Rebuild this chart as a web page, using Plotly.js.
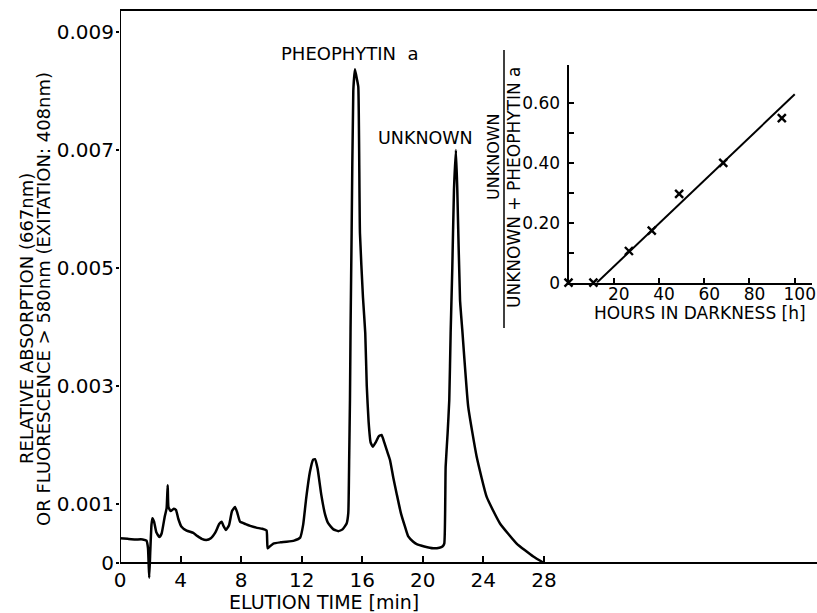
<!DOCTYPE html>
<html>
<head>
<meta charset="utf-8">
<script src="https://cdn.plot.ly/plotly-3.0.1.min.js"></script>
<style>html,body{margin:0;padding:0;background:#fff;}#chart{width:817px;height:613px;}</style>
</head>
<body>
<div id="chart"></div>
<script>
// Main chromatogram: elution time [min] and relative absorption
var elutionTime = [0.0,0.5,1.0,1.5,1.75,1.85,1.93,2.0,2.08,2.14,2.25,2.4,2.6,2.75,2.95,3.08,3.15,3.2,3.35,3.55,3.7,3.85,4.05,4.4,4.84,5.1,5.4,5.7,6.0,6.3,6.55,6.71,6.85,7.0,7.2,7.4,7.6,7.75,7.93,8.3,8.6,9.0,9.4,9.68,9.72,9.75,9.85,10.13,10.6,11.0,11.5,11.9,12.1,12.3,12.55,12.75,12.88,13.05,13.3,13.55,13.76,14.1,14.42,14.7,14.97,15.08,15.14,15.19,15.23,15.3,15.41,15.52,15.65,15.74,15.85,16.05,16.2,16.3,16.42,16.55,16.7,16.9,17.1,17.28,17.45,17.61,17.83,18.05,18.27,18.55,18.82,19.04,19.37,19.6,20.1,20.69,21.1,21.3,21.42,21.51,21.64,21.75,21.84,21.95,22.06,22.19,22.28,22.46,22.61,23.0,23.56,24.22,25.1,26.2,27.3,28.0];
var absorption = [0.00042,0.00041,0.00040,0.00040,0.00038,0.00025,-0.00025,0.00020,0.00065,0.00076,0.00070,0.00052,0.00044,0.00050,0.00078,0.00093,0.00132,0.00095,0.00088,0.00092,0.00090,0.00075,0.00062,0.00055,0.00051,0.00046,0.00041,0.00039,0.00042,0.00052,0.00066,0.00070,0.00062,0.00056,0.00064,0.00088,0.00095,0.00085,0.00070,0.00066,0.00063,0.00060,0.00058,0.00055,0.00040,0.00025,0.00027,0.00033,0.00035,0.00036,0.00038,0.00043,0.00065,0.00110,0.00155,0.00175,0.00176,0.00160,0.00115,0.00082,0.00067,0.00057,0.00054,0.00057,0.00067,0.00085,0.00180,0.00276,0.00400,0.00560,0.00800,0.00837,0.00820,0.00807,0.00559,0.00450,0.00390,0.00300,0.00240,0.00205,0.00197,0.00205,0.00215,0.00217,0.00205,0.00192,0.00175,0.00145,0.00118,0.00085,0.00062,0.00045,0.00036,0.00032,0.00028,0.00025,0.00026,0.00028,0.00033,0.00163,0.00220,0.00276,0.00390,0.00500,0.00632,0.00700,0.00632,0.00446,0.00395,0.00265,0.00180,0.00112,0.00067,0.00033,0.00011,0.00000];
var xTickVals = [0,4,8,12,16,20,24,28];
var xTickText = ["0","4","8","12","16","20","24","28"];
var yTickVals = [0,0.001,0.003,0.005,0.007,0.009];
var yTickText = ["0","0.001","0.003","0.005","0.007","0.009"];

// Inset: hours in darkness vs unknown/(unknown+pheophytin a)
var hoursDark = [0,11,26.7,36.8,48.9,68.4,94.3];
var ratio = [0,0,0.106,0.174,0.297,0.401,0.55];
var fitHours = [12.5,100];
var fitRatio = [0,0.63];
var insetXTickVals = [20,40,60,80,100];
var insetXTickText = ["20","40","60","80","100"];
var insetYTickVals = [0,0.1,0.2,0.3,0.4,0.5,0.6];
var insetYTickText = ["0","","0.20","","0.40","","0.60"];

// pixel -> paper helpers (plot area: x 120..817, y 10..581)
function px(x){return (x-120)/697;}
function py(y){return (581-y)/571;}
var F = "DejaVu Sans, Verdana, sans-serif";

var traces = [
  {x: elutionTime, y: absorption, type:'scatter', mode:'lines', xaxis:'x', yaxis:'y',
   line:{color:'#000', width:2.5, shape:'spline', smoothing:0.4}, hoverinfo:'skip'},
  {x: fitHours, y: fitRatio, type:'scatter', mode:'lines', xaxis:'x2', yaxis:'y2',
   line:{color:'#000', width:2}, hoverinfo:'skip'},
  {x: hoursDark, y: ratio, type:'scatter', mode:'markers', xaxis:'x2', yaxis:'y2', cliponaxis:false,
   marker:{symbol:'x-thin', size:8, color:'#000', line:{color:'#000', width:2.4}}, hoverinfo:'skip'}
];

var layout = {
  width:817, height:613,
  margin:{l:120, r:0, t:10, b:32, pad:0},
  paper_bgcolor:'#fff', plot_bgcolor:'rgba(0,0,0,0)',
  showlegend:false,
  font:{family:F, color:'#000'},
  xaxis:{range:[0,46.04], anchor:'free', position:18/571, showline:true, linecolor:'#000', linewidth:2,
         ticks:'inside', ticklen:6, tickwidth:2, tickcolor:'#000', tickvals:xTickVals, ticktext:xTickText,
         tickfont:{family:F, size:20, color:'#000'}, ticklabelstandoff:-1, showgrid:false, zeroline:false, fixedrange:true},
  yaxis:{range:[-0.000305,0.009373], showline:false, ticks:'outside', ticklen:3, tickwidth:2, tickcolor:'#000',
         tickvals:yTickVals, ticktext:yTickText, tickfont:{family:F, size:20, color:'#000'}, ticklabelstandoff:-2,
         showgrid:false, zeroline:false, fixedrange:true},
  xaxis2:{domain:[0.6435,0.9924], anchor:'y2', range:[0,107.5], showline:true, linecolor:'#000', linewidth:2,
          ticks:'inside', ticklen:5, tickwidth:2, tickcolor:'#000', tickvals:insetXTickVals, ticktext:insetXTickText,
          tickfont:{family:F, size:17, color:'#000'}, ticklabelstandoff:-5, ticklabelshift:5,
          showgrid:false, zeroline:false, fixedrange:true},
  yaxis2:{domain:[0.5224,0.9037], anchor:'x2', range:[0,0.728], showline:true, linecolor:'#000', linewidth:2,
          ticks:'inside', ticklen:5, tickwidth:2, tickcolor:'#000', tickvals:insetYTickVals, ticktext:insetYTickText,
          tickfont:{family:F, size:17, color:'#000'}, ticklabelstandoff:3,
          showgrid:false, zeroline:false, fixedrange:true},
  shapes:[
    {type:'line', xref:'paper', yref:'paper', x0:0, x1:1, y0:1, y1:1, line:{color:'#000', width:2}},
    {type:'line', xref:'x', yref:'y', x0:0, x1:0, y0:0, y1:0.009373, line:{color:'#000', width:2}},
    {type:'line', xref:'paper', yref:'paper', x0:px(504), x1:px(504), y0:py(50), y1:py(328), line:{color:'#000', width:1.5}}
  ],
  annotations:[
    {text:'PHEOPHYTIN&nbsp;&nbsp;a', x:px(350), y:py(54), xref:'paper', yref:'paper', showarrow:false, xanchor:'center', yanchor:'middle', font:{family:F, size:18, color:'#000'}},
    {text:'UNKNOWN', x:px(425), y:py(138), xref:'paper', yref:'paper', showarrow:false, xanchor:'center', yanchor:'middle', font:{family:F, size:17.5, color:'#000'}},
    {text:'RELATIVE ABSORPTION (667nm)', x:px(26), y:py(319), xref:'paper', yref:'paper', showarrow:false, textangle:-90, xanchor:'center', yanchor:'middle', font:{family:F, size:18, color:'#000'}},
    {text:'OR FLUORESCENCE &gt; 580nm (EXITATION: 408nm)', x:px(43), y:py(299), xref:'paper', yref:'paper', showarrow:false, textangle:-90, xanchor:'center', yanchor:'middle', font:{family:F, size:18, color:'#000'}},
    {text:'ELUTION TIME [min]', x:px(324), y:py(602), xref:'paper', yref:'paper', showarrow:false, xanchor:'center', yanchor:'middle', font:{family:F, size:19, color:'#000'}},
    {text:'HOURS IN DARKNESS [h]', x:px(700), y:py(313), xref:'paper', yref:'paper', showarrow:false, xanchor:'center', yanchor:'middle', font:{family:F, size:17, color:'#000'}},
    {text:'UNKNOWN', x:px(493), y:py(157), xref:'paper', yref:'paper', showarrow:false, textangle:-90, xanchor:'center', yanchor:'middle', font:{family:F, size:16, color:'#000'}},
    {text:'UNKNOWN + PHEOPHYTIN a', x:px(514), y:py(187), xref:'paper', yref:'paper', showarrow:false, textangle:-90, xanchor:'center', yanchor:'middle', font:{family:F, size:17, color:'#000'}}
  ]
};

Plotly.newPlot('chart', traces, layout, {displayModeBar:false, staticPlot:true});
</script>
</body>
</html>
